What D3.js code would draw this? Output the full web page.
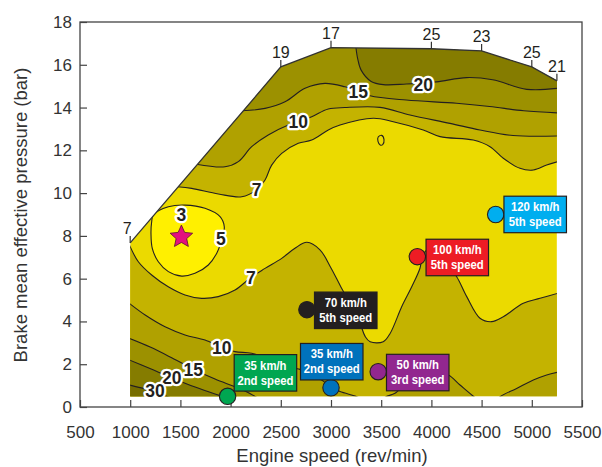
<!DOCTYPE html>
<html><head><meta charset="utf-8">
<script src="https://cdn.jsdelivr.net/npm/d3@7"></script>
<style>
body{margin:0;background:#fff;}
svg{display:block;font-family:"Liberation Sans",Arial,Helvetica,sans-serif;}
</style></head><body>
<svg id="chart" width="602" height="467"></svg>
<script>
// ---------------- data ----------------
const xTicks = [500,1000,1500,2000,2500,3000,3500,4000,4500,5000,5500];
const yTicks = [0,2,4,6,8,10,12,14,16,18];

// full-load envelope (rev/min, bar) and the values written above it
const envelopeTop = [[1000,7.67],[2500,15.9],[3000,16.8],[4000,16.75],[4500,16.65],[5000,15.9],[5250,15.25]];
const envelopeValues = ["7","19","17","25","23","25","21"];
const envelopeBottom = 0.5;

// contour lines of the map (rev/min, bar)
const loop5 = [[1230,8.98],[1380,9.36],[1545,9.44],[1745,9.29],[1895,8.9],[1937,8.43],[1911,7.81],[1862,7.19],[1778,6.64],[1645,6.25],[1513,6.12],[1380,6.33],[1280,6.79],[1220,7.42],[1207,8.12],[1214,8.66]];
const smallLoop = [[3470,12.62],[3505,12.7],[3528,12.5],[3515,12.27],[3490,12.25],[3468,12.42]];
const c7Upper = [[1470,10.3],[1613,10.22],[1878,9.96],[2111,9.83],[2260,10.15],[2343,10.61],[2409,11.31],[2509,11.86],[2674,12.33],[2808,12.48],[2973,12.95],[3090,13.18],[3421,13.5],[3620,13.34],[3919,12.95],[4086,12.64],[4417,12.48],[4584,12.17],[4716,11.63],[4882,11.16],[5015,11.08],[5148,11.31],[5260,11.47]];
const c10Upper = [[1660,11.35],[1944,11.23],[2077,11.47],[2210,12.17],[2375,12.72],[2575,13.18],[2674,13.34],[2808,13.57],[2973,13.93],[3139,14.0],[3488,14.01],[3787,13.65],[4185,13.26],[4484,12.95],[4813,12.69],[5260,12.67]];
const c15Upper = [[2115,13.85],[2343,13.96],[2542,14.27],[2741,14.9],[2940,15.13],[3139,14.97],[3290,14.74],[3390,14.55],[3750,14.35],[4250,14.2],[4580,14.05],[4920,13.85],[5260,13.75]];
const c20Upper = [[3245,16.95],[3265,16.3],[3300,15.75],[3400,15.22],[3520,15.07],[3750,15.1],[4050,15.2],[4350,15.4],[4610,15.3],[4950,14.85],[5260,14.9]];
const c7Lower = [[990,7.6],[1081,6.79],[1214,6.17],[1379,5.62],[1546,5.24],[1712,5.08],[1877,5.16],[2044,5.47],[2203,6.06],[2343,6.48],[2509,6.95],[2641,7.42],[2760,7.7],[2890,7.35],[3000,6.5],[3100,5.6],[3190,4.85],[3290,3.9],[3340,3.3],[3390,3.05],[3520,3.05],[3590,3.45],[3704,4.69],[3804,5.62],[3887,6.5],[3905,6.97],[3960,7.35],[4050,7.2],[4150,6.7],[4252,6.09],[4352,5.16],[4484,4.15],[4600,3.99],[4716,4.22],[4915,4.85],[5082,5.08],[5260,5.32]];
const c10Lower = [[990,4.85],[1149,4.3],[1347,3.75],[1546,3.37],[1745,3.13],[1911,2.79],[2044,2.59],[2210,2.51],[2450,2.15],[2641,1.81],[2691,1.76],[2907,1.26],[3000,0.92],[3090,0.72],[3272,0.45],[3300,0.35]];
const c10Mid = [[3520,0.35],[3547,0.48],[3637,0.64],[3800,1.3],[4050,1.55],[4168,1.5],[4285,1.03],[4434,0.45],[4470,0.35]];
const c10Right = [[4660,0.35],[4683,0.48],[4849,0.87],[5015,1.26],[5148,1.5],[5260,1.63]];
const c15Lower = [[990,3.21],[1199,2.8],[1418,2.29],[1630,1.77],[1845,1.31],[2024,0.98],[2143,0.75],[2280,0.4]];
const c20Lower = [[990,2.2],[1209,1.78],[1418,1.36],[1647,0.93],[1845,0.61],[1990,0.4]];
const c30Lower = [[990,1.03],[1149,0.84],[1299,0.61],[1420,0.4]];

// regions where the value exceeds a level: [line, side, level]
const regions = [
  [c7Upper,"above",7],[c7Lower,"below",7],
  [c10Upper,"above",10],[c10Lower,"below",10],[c10Mid,"below",10],[c10Right,"below",10],
  [c15Upper,"above",15],[c15Lower,"below",15],
  [c20Upper,"above",20],[c20Lower,"below",20],
  [c30Lower,"below",30]
];

// contour labels
const labelText = ["3","5","7","10","15","20","7","10","15","20","30"];
const labelPos = [[1510,8.98],[1904,7.89],[2260,10.15],[2674,13.34],[3272,14.74],[3919,15.09],[2203,6.06],[1911,2.79],[1628,1.76],[1413,1.39],[1247,0.75]];

// operating points
const bestPoint = [1510,8.0];
const markerSpeed = [1970,3000,3470,2760,3860,4640];
const markerBmep  = [0.5,0.9,1.65,4.55,7.03,9.0];
const markerLine1 = ["35 km/h","35 km/h","50 km/h","70 km/h","100 km/h","120 km/h"];
const markerLine2 = ["2nd speed","2nd speed","3rd speed","5th speed","5th speed","5th speed"];

// ---------------- styles ----------------
const bandColor = {base:"#EBDA00", low:"#FFF000", 7:"#C4B300", 10:"#B0A100", 15:"#9C9100", 20:"#857C00", 30:"#766D00"};
const markerColors = ["#00A651","#0072BC","#92278F","#231F20","#ED1C24","#00AEEF"];
const boxOffsets = [[6.6,-41.7],[-30.5,-44.3],[8.3,-17.4],[7.6,-17.6],[8.7,-17.4],[8.3,-18.3]];
const boxW = 62.5, boxH = 36.5;
const ink = "#231F20";

// ---------------- chart ----------------
const svg = d3.select("#chart");
const x = d3.scaleLinear().domain([500,5500]).range([80,582]);
const y = d3.scaleLinear().domain([0,18]).range([407,22]);

const straight = d3.line().x(d=>x(d[0])).y(d=>y(d[1]));
const smooth = d3.line().x(d=>x(d[0])).y(d=>y(d[1])).curve(d3.curveCatmullRom.alpha(0.5));
const smoothClosed = d3.line().x(d=>x(d[0])).y(d=>y(d[1])).curve(d3.curveCatmullRomClosed.alpha(0.5));

const envelope = envelopeTop.concat([[envelopeTop[envelopeTop.length-1][0],envelopeBottom],[envelopeTop[0][0],envelopeBottom]]);

svg.append("clipPath").attr("id","env").append("path").attr("d", straight(envelope)+"Z");

const map = svg.append("g").attr("clip-path","url(#env)");
map.append("path").attr("d", straight(envelope)+"Z").attr("fill", bandColor.base);
map.append("path").attr("d", smoothClosed(loop5)).attr("fill", bandColor.low);

function regionPath(pts, side){
  const first = pts[0], last = pts[pts.length-1];
  const yy = side==="above" ? 20 : -1;
  return smooth(pts) + "L" + x(last[0]) + "," + y(yy) + "L" + x(first[0]) + "," + y(yy) + "Z";
}
[7,10,15,20,30].forEach(lv=>{
  regions.filter(r=>r[2]===lv).forEach(r=>{
    map.append("path").attr("d", regionPath(r[0], r[1])).attr("fill", bandColor[lv]);
  });
});

// contour lines
const lineStyle = p => p.attr("fill","none").attr("stroke",ink).attr("stroke-width",1.1);
regions.forEach(r=>{ map.append("path").attr("d", smooth(r[0])).call(lineStyle); });
map.append("path").attr("d", smoothClosed(loop5)).call(lineStyle);
map.append("path").attr("d", smoothClosed(smallLoop)).call(lineStyle);

// envelope outline + value ticks
svg.append("path").attr("d", straight(envelopeTop)).attr("fill","none").attr("stroke","#333").attr("stroke-width",1.3);
envelopeTop.forEach((p,i)=>{
  const px = x(p[0]), py = y(p[1]);
  svg.append("line").attr("x1",px).attr("x2",px).attr("y1",py).attr("y2",py-7).attr("stroke","#333").attr("stroke-width",1.2);
  svg.append("text").attr("x", px + (i===0?-3:0)).attr("y", py-9).attr("text-anchor","middle")
    .attr("font-size",16).attr("fill",ink).text(envelopeValues[i]);
});

// frame & axes
svg.append("rect").attr("x",80).attr("y",22).attr("width",502).attr("height",385)
  .attr("fill","none").attr("stroke","#444").attr("stroke-width",1.3);
const xAxis = svg.append("g").attr("transform","translate(0,407)")
  .call(d3.axisBottom(x).tickValues(xTicks).tickSize(-7).tickSizeOuter(0).tickPadding(19).tickFormat(d3.format("d")));
const yAxis = svg.append("g").attr("transform","translate(80,0)")
  .call(d3.axisLeft(y).tickValues(yTicks).tickSize(-7).tickSizeOuter(0).tickPadding(8));
[xAxis,yAxis].forEach(a=>{
  a.select(".domain").remove();
  a.selectAll(".tick line").attr("stroke","#444").attr("stroke-width",1.2);
  a.selectAll(".tick text").attr("font-size",17).attr("fill","#333").attr("font-family",null);
});
svg.append("text").attr("x",332).attr("y",462).attr("text-anchor","middle").attr("font-size",18.5).attr("fill","#333").text("Engine speed (rev/min)");
svg.append("text").attr("transform","translate(27,215) rotate(-90)").attr("text-anchor","middle").attr("font-size",18.5).attr("fill","#333").text("Brake mean effective pressure (bar)");

// contour labels
labelText.forEach((t,i)=>{
  svg.append("text").attr("x",x(labelPos[i][0])).attr("y",y(labelPos[i][1])).attr("dy","0.36em")
    .attr("text-anchor","middle").attr("font-size",17.5).attr("font-weight","bold")
    .attr("fill",ink).attr("stroke","#fff").attr("stroke-width",4.5).attr("stroke-linejoin","round")
    .attr("paint-order","stroke").text(t);
});

// best point star (chunkier five-pointed star)
const fatStar = {draw(ctx, size){
  const R = Math.sqrt(size), r = R*0.47;
  for(let k=0;k<10;k++){
    const a = -Math.PI/2 + k*Math.PI/5, rad = k%2 ? r : R;
    const px = rad*Math.cos(a), py = rad*Math.sin(a);
    k ? ctx.lineTo(px,py) : ctx.moveTo(px,py);
  }
  ctx.closePath();
}};
svg.append("path").attr("d", d3.symbol(fatStar, 140)())
  .attr("transform",`translate(${x(bestPoint[0])},${y(bestPoint[1])+1})`)
  .attr("fill","#E4107F").attr("stroke","#5a1030").attr("stroke-width",0.8);

// operating points
markerSpeed.forEach((s,i)=>{
  const cx = x(s), cy = y(markerBmep[i]);
  const bx = cx + boxOffsets[i][0], by = cy + boxOffsets[i][1];
  svg.append("circle").attr("cx",cx).attr("cy",cy).attr("r",8.2)
    .attr("fill",markerColors[i]).attr("stroke",ink).attr("stroke-width",1.1);
  svg.append("rect").attr("x",bx).attr("y",by).attr("width",boxW).attr("height",boxH)
    .attr("fill",markerColors[i]).attr("stroke",ink).attr("stroke-width",1.2);
  [markerLine1[i], markerLine2[i]].forEach((t,k)=>{
    const tx = svg.append("text").attr("x",bx+boxW/2).attr("y",by+15+k*15)
      .attr("text-anchor","middle").attr("font-size",13.5).attr("font-weight","bold")
      .attr("fill","#fff").text(t);
    const len = tx.node().getComputedTextLength();
    tx.attr("textLength",len*0.84).attr("lengthAdjust","spacingAndGlyphs");
  });
});
</script>
</body></html>
